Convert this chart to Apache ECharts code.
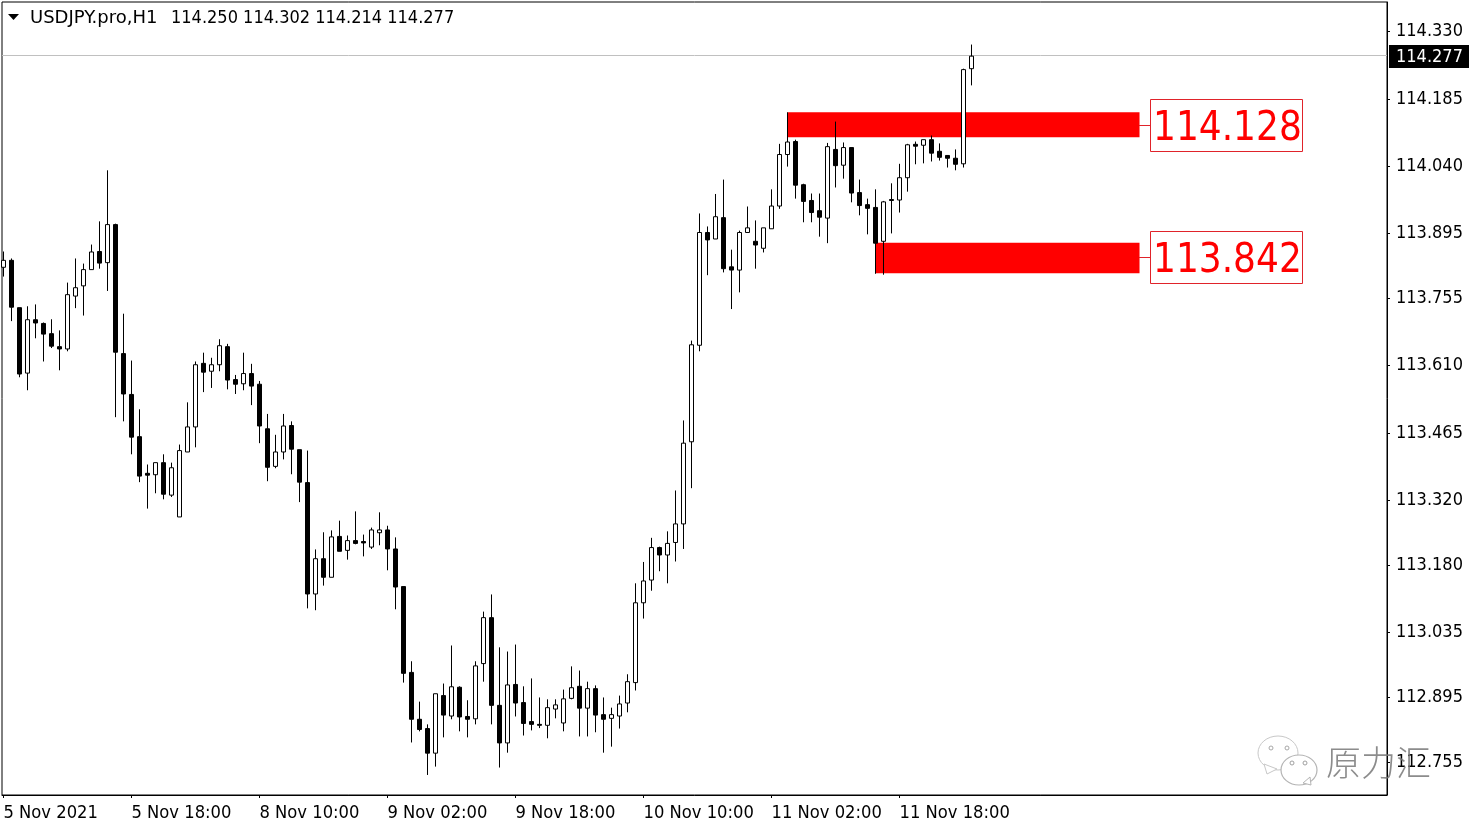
<!DOCTYPE html>
<html>
<head>
  <meta charset="UTF-8">
  <title>USDJPY.pro,H1</title>
  <style type="text/css">
    html,body{margin:0;padding:0;background:#fff;}
    #chart{width:1479px;height:828px;}
  </style>
  <script src="https://cdn.jsdelivr.net/npm/echarts@6/dist/echarts.min.js"></script>
</head>
<body>
<div id="chart"></div>
<script type="text/javascript">
    var opens = [113.822,113.837,113.735,113.594,113.709,113.701,113.679,113.651,113.646,113.760,113.782,113.817,113.856,113.832,113.914,113.636,113.548,113.457,113.378,113.375,113.401,113.331,113.284,113.424,113.478,
        113.615,113.598,113.612,113.651,113.580,113.571,113.593,113.570,113.474,113.393,113.424,113.481,113.429,113.358,113.118,113.194,113.154,113.242,113.212,113.233,113.231,113.219,113.250,113.256,113.215,
        113.134,112.949,112.848,112.828,112.775,112.899,112.855,112.917,112.854,112.849,112.968,113.067,112.878,112.797,112.923,112.884,112.843,112.837,112.835,112.870,112.840,112.893,112.919,112.872,112.914,
        112.858,112.850,112.855,112.883,112.927,113.099,113.148,113.218,113.202,113.229,113.269,113.446,113.654,113.897,113.883,113.929,113.823,113.816,113.897,113.878,113.863,113.905,113.954,114.065,114.093,
        114.000,113.966,113.944,113.928,114.076,114.042,114.080,113.983,113.957,113.951,113.878,113.968,113.967,114.015,114.087,114.085,114.097,114.072,114.063,114.057,114.045,114.250];
    var closes = [113.837,113.736,113.592,113.709,113.702,113.678,113.652,113.646,113.763,113.778,113.817,113.855,113.831,113.914,113.639,113.549,113.456,113.372,113.374,113.401,113.333,113.390,113.427,113.478,113.612,
        113.596,113.612,113.653,113.579,113.570,113.593,113.566,113.480,113.391,113.424,113.480,113.430,113.359,113.118,113.194,113.154,113.241,113.210,113.233,113.227,113.228,113.256,113.256,113.215,113.133,
        112.947,112.848,112.826,112.775,112.903,112.857,112.918,112.853,112.848,112.963,113.067,112.878,112.797,112.922,112.883,112.839,112.837,112.835,112.873,112.879,112.892,112.916,112.872,112.914,112.857,
        112.848,112.858,112.881,112.929,113.099,113.146,113.218,113.202,113.227,113.269,113.443,113.655,113.897,113.881,113.931,113.819,113.816,113.897,113.907,113.870,113.907,113.954,114.065,114.092,113.999,
        113.964,113.940,113.930,114.082,114.041,114.080,113.982,113.955,113.949,113.874,113.963,113.966,114.015,114.086,114.083,114.097,114.068,114.059,114.057,114.044,114.248,114.277];
    var lows = [113.802,113.706,113.585,113.557,113.669,113.619,113.648,113.600,113.641,113.734,113.718,113.817,113.819,113.771,113.499,113.490,113.419,113.359,113.302,113.335,113.322,113.327,113.284,113.424,113.434,
        113.553,113.562,113.598,113.559,113.549,113.557,113.525,113.443,113.361,113.389,113.408,113.376,113.316,113.087,113.083,113.136,113.154,113.210,113.192,113.225,113.199,113.215,113.223,113.169,113.085,
        112.927,112.798,112.822,112.728,112.746,112.809,112.848,112.822,112.809,112.837,112.929,112.837,112.744,112.776,112.854,112.813,112.824,112.829,112.807,112.850,112.822,112.891,112.811,112.811,112.820,
        112.776,112.789,112.828,112.863,112.910,113.065,113.125,113.167,113.141,113.188,113.215,113.346,113.641,113.805,113.883,113.811,113.732,113.768,113.897,113.819,113.854,113.905,113.948,114.039,113.970,
        113.919,113.919,113.888,113.874,113.994,114.013,113.962,113.934,113.893,113.808,113.806,113.895,113.940,113.985,114.044,114.046,114.050,114.052,114.037,114.031,114.037,114.214];
    var highs = [113.856,113.841,113.735,113.738,113.742,113.703,113.710,113.686,113.789,113.841,113.830,113.871,113.921,114.031,113.916,113.722,113.621,113.516,113.397,113.401,113.419,113.401,113.440,113.531,113.619,
        113.638,113.627,113.667,113.657,113.590,113.638,113.614,113.577,113.506,113.461,113.506,113.490,113.429,113.427,113.214,113.251,113.255,113.276,113.244,113.296,113.246,113.261,113.294,113.265,113.240,
        113.134,112.973,112.886,112.837,112.903,112.925,113.007,112.919,112.889,112.973,113.080,113.117,113.003,112.994,113.009,112.919,112.936,112.895,112.891,112.891,112.912,112.962,112.953,112.929,112.921,
        112.895,112.873,112.899,112.945,113.141,113.187,113.239,113.220,113.253,113.341,113.492,113.664,113.938,113.910,113.980,114.011,113.860,113.901,113.953,113.923,113.907,113.990,114.088,114.156,114.097,
        114.002,113.981,113.981,114.090,114.136,114.091,114.080,114.011,113.970,113.990,113.965,114.003,114.045,114.088,114.093,114.097,114.106,114.089,114.063,114.076,114.250,114.302];

    var timeTicks = [0,16,32,48,64,80,96,112];
    var timeLabels = ['5 Nov 2021','5 Nov 18:00','8 Nov 10:00','9 Nov 02:00','9 Nov 18:00','10 Nov 10:00','11 Nov 02:00','11 Nov 18:00'];
    var priceTicks = [114.330,114.185,114.040,113.895,113.755,113.610,113.465,113.320,113.180,113.035,112.895,112.755];
    var lastPrice = 114.277;

    // red zones: start bar, end bar, upper and lower price
    var zoneStart = [98,109];
    var zoneEnd = [142,142];
    var zoneTop = [114.156,113.875];
    var zoneBottom = [114.102,113.809];
    var zoneLabels = ['114.128','113.842'];

    var font = '"DejaVu Sans Condensed","Liberation Sans",sans-serif';

    var candles = [];
    for(var i=0;i<opens.length;i++){
        candles.push([i,opens[i],closes[i],lows[i],highs[i]]);
    }
    var zones = [];
    for(var j=0;j<zoneStart.length;j++){
        zones.push([{xAxis:zoneStart[j],yAxis:zoneTop[j]},{xAxis:zoneEnd[j],yAxis:zoneBottom[j]}]);
    }

    var myChart = echarts.init(document.getElementById('chart'));

    var option = {
        animation: false,
        backgroundColor: '#fff',
        grid: {left:2,right:92,top:2,bottom:33,show:true,borderColor:'#000',borderWidth:1,backgroundColor:'#fff'},
        xAxis: {
            type: 'value',
            min: -0.19,
            max: 172.935,
            splitLine: {show:false},
            axisLine: {show:true,lineStyle:{color:'#000'}},
            axisTick: {show:true,length:3,lineStyle:{color:'#000'},customValues:timeTicks},
            axisLabel: {
                color:'#000',fontFamily:font,fontSize:18.2,margin:9,align:'left',
                customValues:timeTicks,
                formatter:function(v){ return timeLabels[timeTicks.indexOf(v)]; }
            }
        },
        yAxis: {
            type: 'value',
            position: 'right',
            min: 112.6848,
            max: 114.3937,
            splitLine: {show:false},
            axisLine: {show:true,onZero:false,lineStyle:{color:'#000'}},
            axisTick: {show:true,length:3,lineStyle:{color:'#000'},customValues:priceTicks},
            axisLabel: {
                color:'#000',fontFamily:font,fontSize:18,margin:9,padding:[3,0,0,0],
                customValues:priceTicks,
                formatter:function(v){ return v.toFixed(3); }
            }
        },
        series: [{
            type: 'candlestick',
            data: candles,
            encode: {x:0,y:[1,2,3,4]},
            barWidth: 5,
            z: 3,
            itemStyle: {color:'#fff',color0:'#000',borderColor:'#000',borderColor0:'#000',borderWidth:1},
            markArea: {
                silent: true,
                z: 1,
                itemStyle: {color:'#ff0000'},
                data: zones
            },
            markLine: {
                silent: true,
                symbol: 'none',
                z: 1,
                animation: false,
                label: {show:false},
                lineStyle: {color:'#c0c0c0',width:1,type:'solid'},
                data: [{yAxis:lastPrice}]
            }
        }],
        graphic: [
            // header
            {type:'polygon',z:20,shape:{points:[[8,14],[19,14],[13.5,20]]},style:{fill:'#000'}},
            {type:'text',z:20,x:30,y:9,style:{text:'USDJPY.pro,H1',font:'18px "DejaVu Sans",sans-serif',fill:'#000'}},
            {type:'text',z:20,x:171,y:9,style:{text:'114.250 114.302 114.214 114.277',font:'18px '+font,fill:'#000'}},
            // last price tag
            {type:'rect',z:20,shape:{x:1389,y:45,width:80,height:23},style:{fill:'#000'}},
            {type:'text',z:21,x:1396,y:48,style:{text:lastPrice.toFixed(3),font:'18px '+font,fill:'#fff'}},
            // zone labels
            {type:'line',z:20,shape:{x1:1139,y1:125.5,x2:1150,y2:125.5},style:{stroke:'#e0232a',lineWidth:1}},
            {type:'rect',z:20,shape:{x:1150.5,y:99.5,width:152,height:52},style:{fill:'#fff',stroke:'#e0232a',lineWidth:1}},
            {type:'text',z:21,x:1153,y:110,style:{text:zoneLabels[0],font:'40px '+font,fill:'#ff0000'}},
            {type:'line',z:20,shape:{x1:1139,y1:257.5,x2:1150,y2:257.5},style:{stroke:'#e0232a',lineWidth:1}},
            {type:'rect',z:20,shape:{x:1150.5,y:231.5,width:152,height:52},style:{fill:'#fff',stroke:'#e0232a',lineWidth:1}},
            {type:'text',z:21,x:1153,y:242,style:{text:zoneLabels[1],font:'40px '+font,fill:'#ff0000'}},
            // watermark
            {type:'ellipse',z:30,shape:{cx:1278,cy:753,rx:20,ry:17},style:{fill:'rgba(255,255,255,0.85)',stroke:'#c8c8c8',lineWidth:1}},
            {type:'polygon',z:30,shape:{points:[[1264,764],[1267,774],[1277,769]]},style:{fill:'#fff',stroke:'#c8c8c8',lineWidth:1}},
            {type:'circle',z:31,shape:{cx:1271,cy:748,r:2},style:{fill:'#fff',stroke:'#a8a8a8'}},
            {type:'circle',z:31,shape:{cx:1287,cy:748,r:2},style:{fill:'#fff',stroke:'#a8a8a8'}},
            {type:'ellipse',z:32,shape:{cx:1299,cy:770,rx:18,ry:15},style:{fill:'#fff',stroke:'#b4b4b4',lineWidth:1.2}},
            {type:'polygon',z:32,shape:{points:[[1303,783],[1311,785],[1310,777]]},style:{fill:'#fff',stroke:'#b4b4b4',lineWidth:1}},
            {type:'circle',z:33,shape:{cx:1292,cy:763,r:2},style:{fill:'#fff',stroke:'#a0a0a0'}},
            {type:'circle',z:33,shape:{cx:1305,cy:763,r:2},style:{fill:'#fff',stroke:'#a0a0a0'}},
            {type:'text',z:34,x:1326,y:745,style:{text:'原力汇',font:'300 35px "Noto Sans CJK SC",sans-serif',fill:'rgba(120,120,120,0.85)'}}
        ]
    };
    myChart.setOption(option);
</script>
</body>
</html>
